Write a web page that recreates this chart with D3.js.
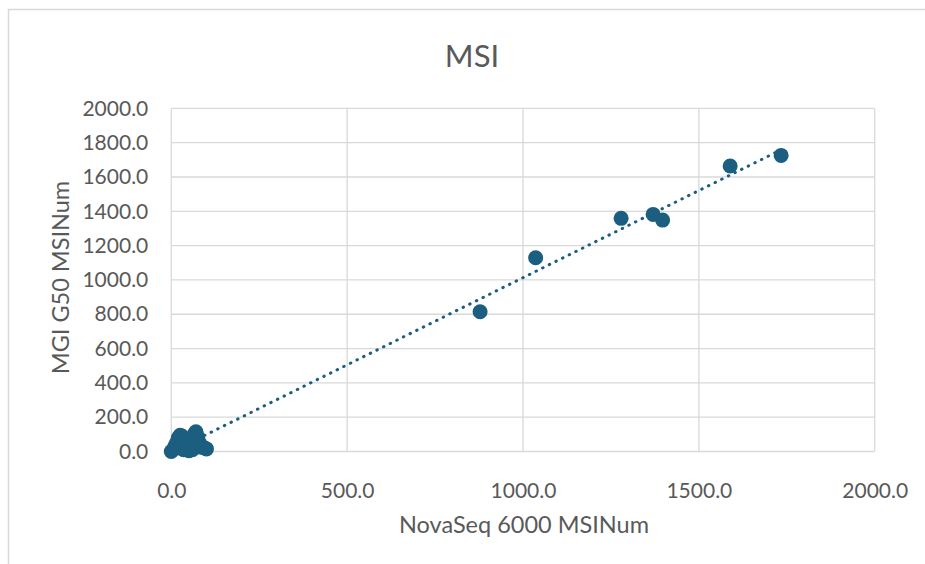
<!DOCTYPE html>
<html><head><meta charset="utf-8">
<script src="https://cdn.jsdelivr.net/npm/d3@7"></script>
<style>body{margin:0;background:#fff;}svg{display:block;font-family:Lato,"Open Sans",sans-serif;}</style>
</head><body>
<svg id="c" width="925" height="564"></svg>
<script>
const title = "MSI";
const xTitle = "NovaSeq 6000 MSINum";
const yTitle = "MGI G50 MSINum";
const xTicks = [0, 500, 1000, 1500, 2000];
const yTicks = [0, 200, 400, 600, 800, 1000, 1200, 1400, 1600, 1800, 2000];
// NovaSeq 6000 MSINum (x) and MGI G50 MSINum (y)
const novaSeq = [0,5,10,15,20,25,30,35,40,45,50,55,60,65,70,75,80,85,95,100,35,25,60,45,70,
  878,1036,1279,1370,1397,1589,1734];
const mgiG50  = [0,10,30,50,80,95,90,60,40,20,5,30,70,100,115,85,50,25,20,15,10,20,10,70,40,
  815,1129,1359,1382,1349,1664,1726];

const color = "#1b5e80";
const svg = d3.select("#c");
svg.append("rect").attr("x",8.5).attr("y",9.5).attr("width",1000).attr("height",1000)
  .attr("fill","#fff").attr("stroke","#d9d9d9").attr("stroke-width",1.5);

const x = d3.scaleLinear().domain([0,2000]).range([171.3, 874.7]);
const y = d3.scaleLinear().domain([0,2000]).range([451.5, 108.4]);

const g = svg.append("g");
// gridlines
g.selectAll(".hg").data(yTicks).join("line")
  .attr("x1", x(0)).attr("x2", x(2000)).attr("y1", d=>y(d)).attr("y2", d=>y(d))
  .attr("stroke","#d9d9d9").attr("stroke-width",1.3);
g.selectAll(".vg").data(xTicks).join("line")
  .attr("y1", y(0)).attr("y2", y(2000)).attr("x1", d=>x(d)).attr("x2", d=>x(d))
  .attr("stroke","#d9d9d9").attr("stroke-width",1.3);

// axes labels via d3 axes
const xAxis = d3.axisBottom(x).tickValues(xTicks).tickFormat(d3.format(".1f")).tickSize(0).tickPadding(0);
const yAxis = d3.axisLeft(y).tickValues(yTicks).tickFormat(d3.format(".1f")).tickSize(0).tickPadding(0);
const xa = svg.append("g").attr("transform",`translate(0,${y(0)+31.5})`).call(xAxis);
const ya = svg.append("g").attr("transform",`translate(${x(0)-23},0)`).call(yAxis);
[xa,ya].forEach(a=>{
  a.select(".domain").remove();
  a.selectAll("text").attr("fill","#595959").style("font-size","21px").style("font-family","Lato");
});

// points
const pts = novaSeq.map((v,i)=>({x:v,y:mgiG50[i]}));
svg.append("g").selectAll("circle").data(pts).join("circle")
  .attr("cx",d=>x(d.x)).attr("cy",d=>y(d.y)).attr("r",7.5).attr("fill",color);

// linear trendline
const mx = d3.mean(pts,d=>d.x), my = d3.mean(pts,d=>d.y);
const b = d3.sum(pts,d=>(d.x-mx)*(d.y-my))/d3.sum(pts,d=>(d.x-mx)*(d.x-mx));
const a0 = my - b*mx;
const xmin = d3.min(novaSeq), xmax = d3.max(novaSeq);
svg.append("line")
  .attr("x1",x(xmin)).attr("y1",y(a0+b*xmin)).attr("x2",x(xmax)).attr("y2",y(a0+b*xmax))
  .attr("stroke",color).attr("stroke-width",3).attr("stroke-linecap","round")
  .attr("stroke-dasharray","0.5 6.9");

// titles
svg.append("text").attr("x",472).attr("y",67).attr("text-anchor","middle")
  .attr("fill","#595959").style("font-size","31px").text(title);
svg.append("text").attr("x",524).attr("y",533).attr("text-anchor","middle")
  .attr("fill","#595959").style("font-size","23.5px").text(xTitle);
svg.append("text").attr("transform",`translate(68.5,277.5) rotate(-90)`)
  .attr("text-anchor","middle").attr("fill","#595959").style("font-size","23.5px").text(yTitle);
</script>
</body></html>
